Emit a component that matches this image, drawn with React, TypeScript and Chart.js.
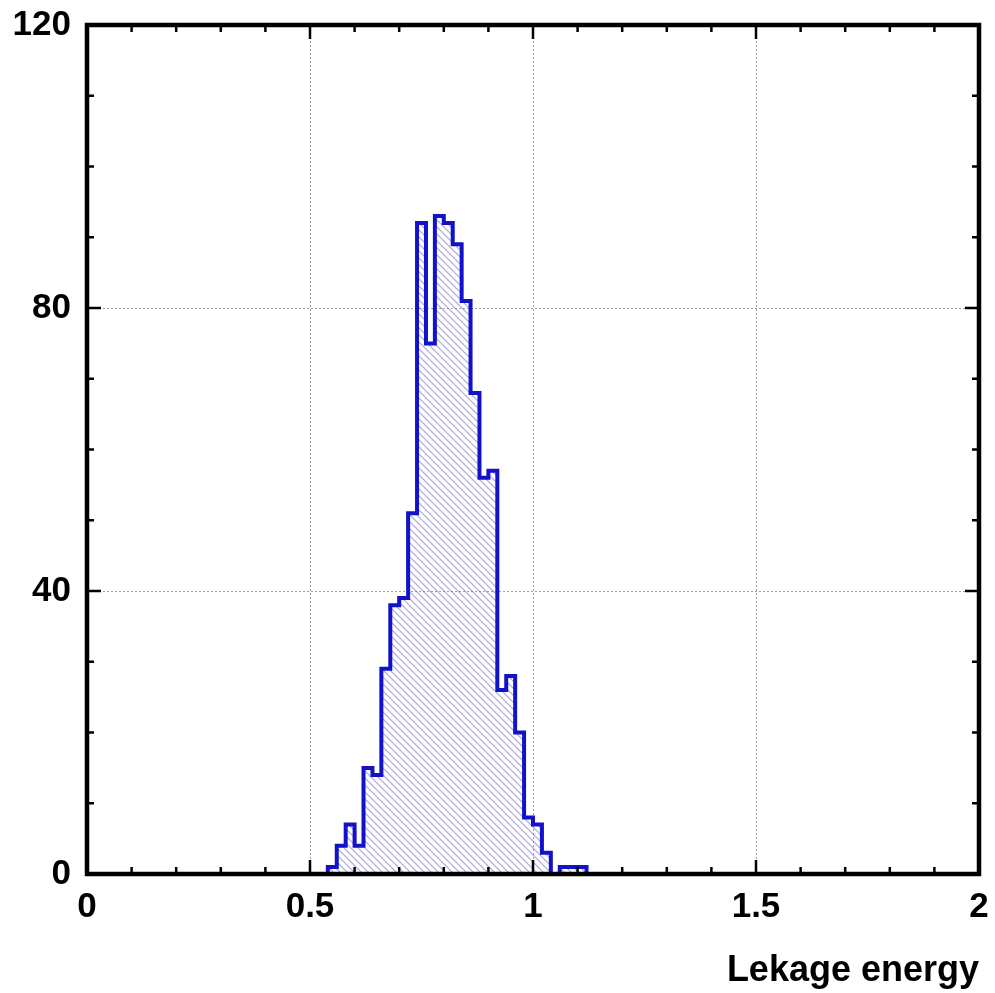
import React, { useEffect, useRef } from "react";
import { Chart, registerables } from "chart.js";

Chart.register(...registerables);

// Histogram bin edges (low edges of each bin + final high edge)
const binEdges = [
  0.54, 0.56, 0.58, 0.6, 0.62, 0.64, 0.66, 0.68, 0.7, 0.72, 0.74, 0.76, 0.78, 0.8, 0.82,
  0.84, 0.86, 0.88, 0.9, 0.92, 0.94, 0.96, 0.98, 1.0, 1.02, 1.04, 1.06, 1.08, 1.1, 1.12,
];
// Entries per bin
const counts = [
  1, 4, 7, 4, 15, 14, 29, 38, 39, 51, 92, 75, 93, 92, 89, 81, 68, 56, 57, 26, 28, 20, 8, 7, 3,
  0, 1, 1, 1,
];

const xTickLabels = ["0", "0.5", "1", "1.5", "2"];
const xMin = 0;
const xMax = 2;
const yMin = 0;
const yMax = 120;
const xMajorStep = 0.5;
const yMajorStep = 40;
const xMinorStep = 0.1;
const yMinorStep = 10;
const xTitle = "Lekage energy";

const FONT = '"Liberation Sans", Arial, Helvetica, sans-serif';

function makeHatch(): CanvasPattern | string {
  const s = 7;
  const c = document.createElement("canvas");
  c.width = s;
  c.height = s;
  const g = c.getContext("2d");
  if (!g) return "rgba(100,100,200,0.3)";
  g.strokeStyle = "rgba(90,90,195,0.55)";
  g.lineWidth = 1.1;
  g.beginPath();
  g.moveTo(-1, -1);
  g.lineTo(s + 1, s + 1);
  g.moveTo(-1, s - 1);
  g.lineTo(1, s + 1);
  g.moveTo(s - 1, -1);
  g.lineTo(s + 1, 1);
  g.stroke();
  const p = g.createPattern(c, "repeat");
  return p || "rgba(100,100,200,0.3)";
}

function zeroPad(s: any) {
  s.paddingTop = 0;
  s.paddingBottom = 0;
  s.paddingLeft = 0;
  s.paddingRight = 0;
}

const frameTicksPlugin = {
  id: "frameTicks",
  afterDatasetsDraw(chart: any) {
    const { ctx, chartArea: a, scales } = chart;
    const x = scales.x;
    const y = scales.y;
    ctx.save();
    ctx.strokeStyle = "#000";
    ctx.lineWidth = 2.5;
    ctx.beginPath();
    const nx = Math.round((xMax - xMin) / xMinorStep);
    const perMajorX = Math.round(xMajorStep / xMinorStep);
    for (let i = 0; i <= nx; i++) {
      const px = x.getPixelForValue(xMin + i * xMinorStep);
      const len = i % perMajorX === 0 ? 14 : 7;
      ctx.moveTo(px, a.bottom);
      ctx.lineTo(px, a.bottom - len);
      ctx.moveTo(px, a.top);
      ctx.lineTo(px, a.top + len);
    }
    const ny = Math.round((yMax - yMin) / yMinorStep);
    const perMajorY = Math.round(yMajorStep / yMinorStep);
    for (let j = 0; j <= ny; j++) {
      const py = y.getPixelForValue(yMin + j * yMinorStep);
      const len = j % perMajorY === 0 ? 14 : 7;
      ctx.moveTo(a.left, py);
      ctx.lineTo(a.left + len, py);
      ctx.moveTo(a.right, py);
      ctx.lineTo(a.right - len, py);
    }
    ctx.stroke();
    ctx.lineWidth = 4.5;
    ctx.strokeRect(a.left, a.top, a.right - a.left, a.bottom - a.top);
    ctx.restore();
  },
};

export default function App() {
  const ref = useRef<HTMLCanvasElement | null>(null);

  useEffect(() => {
    document.body.style.margin = "0";
    document.body.style.background = "#fff";
    const canvas = ref.current;
    if (!canvas) return;

    const points: { x: number; y: number }[] = [];
    points.push({ x: binEdges[0], y: 0 });
    for (let i = 0; i < counts.length; i++) {
      points.push({ x: binEdges[i], y: counts[i] });
    }
    points.push({ x: binEdges[binEdges.length - 1], y: 0 });

    const chart = new Chart(canvas, {
      type: "line",
      data: {
        datasets: [
          {
            data: points,
            stepped: "before",
            borderColor: "#1212c8",
            borderWidth: 4,
            backgroundColor: makeHatch() as any,
            fill: "origin",
            pointRadius: 0,
            tension: 0,
            borderJoinStyle: "miter",
          },
        ],
      },
      options: {
        animation: false,
        responsive: false,
        events: [],
        layout: { padding: { top: 25, right: 16, left: 0, bottom: 0 } },
        plugins: {
          legend: { display: false },
          tooltip: { enabled: false },
        },
        scales: {
          x: {
            type: "linear",
            min: xMin,
            max: xMax,
            afterFit: (s: any) => {
              s.height = 119;
              zeroPad(s);
            },
            grid: { color: "#a0a0a0", lineWidth: 1, drawTicks: false },
            border: { display: false, dash: [2, 2] },
            ticks: {
              stepSize: xMajorStep,
              padding: 12,
              color: "#000",
              autoSkip: false,
              maxRotation: 0,
              font: { family: FONT, size: 35, weight: "bold" },
              callback: (v: any) => {
                const idx = Math.round((Number(v) - xMin) / xMajorStep);
                return xTickLabels[idx] ?? String(v);
              },
            },
            title: {
              display: true,
              text: xTitle,
              align: "end",
              color: "#000",
              font: { family: FONT, size: 36, weight: "bold" },
              padding: { top: 0, bottom: 0 },
            },
          },
          y: {
            type: "linear",
            min: yMin,
            max: yMax,
            afterFit: (s: any) => {
              s.width = 87;
              zeroPad(s);
            },
            grid: { color: "#a0a0a0", lineWidth: 1, drawTicks: false },
            border: { display: false, dash: [2, 2] },
            ticks: {
              stepSize: yMajorStep,
              padding: 16,
              color: "#000",
              font: { family: FONT, size: 35, weight: "bold" },
            },
          },
        },
      } as any,
      plugins: [frameTicksPlugin],
    });

    return () => chart.destroy();
  }, []);

  return <canvas ref={ref} width={995} height={993} style={{ display: "block" }} />;
}
